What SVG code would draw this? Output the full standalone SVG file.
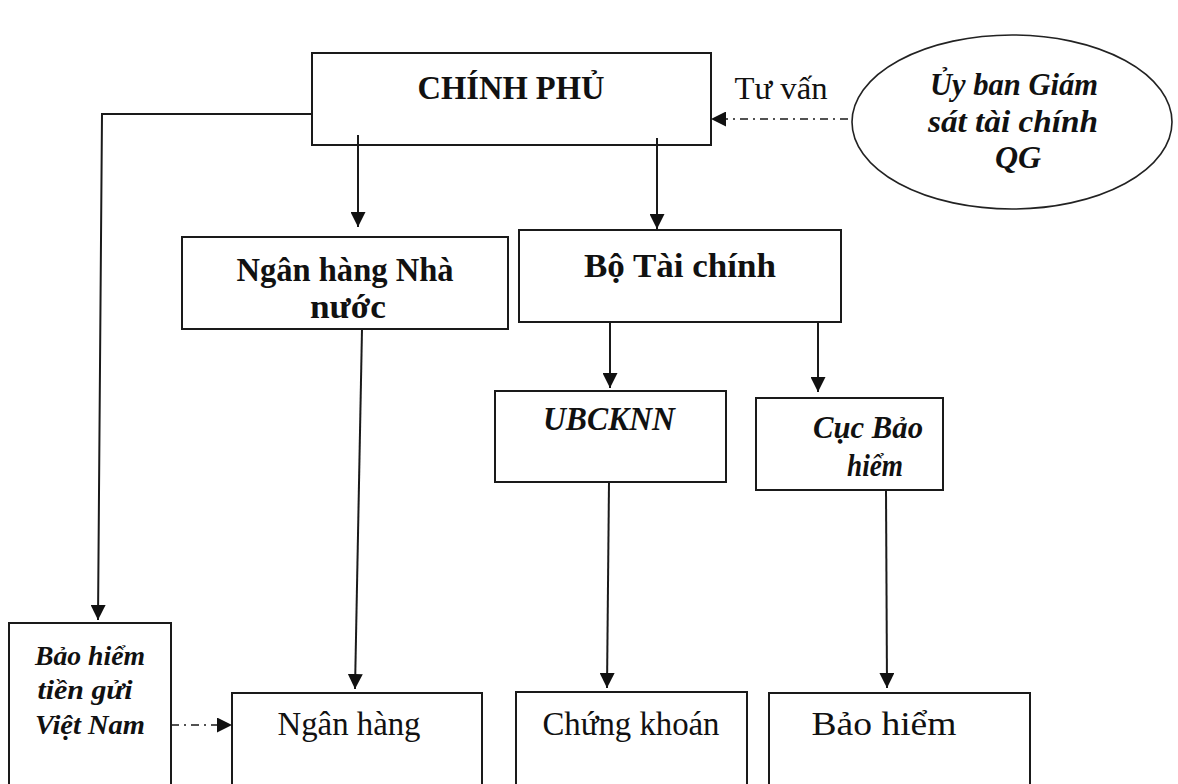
<svg xmlns="http://www.w3.org/2000/svg" width="1178" height="784" viewBox="0 0 1178 784">
<style>
.box{fill:#fff;stroke:#1a1a1a;stroke-width:2}
.t{font-family:"Liberation Serif","Times New Roman",serif;fill:#111;text-anchor:middle}
.b{font-weight:bold}
.i{font-style:italic}
.c{fill:none;stroke:#1a1a1a;stroke-width:2}
.d{fill:none;stroke:#1a1a1a;stroke-width:1.6;stroke-dasharray:8 5 2 5}
</style>
<defs>
<marker id="ah" viewBox="0 0 10 10" refX="10" refY="5" markerUnits="userSpaceOnUse" markerWidth="15" markerHeight="15" orient="auto" preserveAspectRatio="none">
<path d="M0,0 L10,5 L0,10 z" fill="#111"/>
</marker>
</defs>
<rect width="1178" height="784" fill="#fff"/>
<g id="chinhphu">
<rect class="box" x="312" y="53" width="399" height="92"/>
<text class="t b" x="511" y="99" font-size="33" textLength="187" lengthAdjust="spacingAndGlyphs">CHÍNH PHỦ</text>
</g>
<g id="tuvan-label">
<text class="t" x="781" y="99" font-size="32" textLength="93" lengthAdjust="spacingAndGlyphs">Tư vấn</text>
</g>
<g id="uybangiamsat">
<ellipse cx="1012" cy="122" rx="160" ry="87" fill="#fff" stroke="#222" stroke-width="1.6"/>
<text class="t b i" x="1014" y="95" font-size="32" textLength="168" lengthAdjust="spacingAndGlyphs">Ủy ban Giám</text>
<text class="t b i" x="1013" y="132" font-size="32" textLength="170" lengthAdjust="spacingAndGlyphs">sát tài chính</text>
<text class="t b i" x="1018" y="168" font-size="32">QG</text>
</g>
<g id="nhnn">
<rect class="box" x="182" y="237" width="326" height="92"/>
<text class="t b" x="345" y="281" font-size="33" textLength="217" lengthAdjust="spacingAndGlyphs">Ngân hàng Nhà</text>
<text class="t b" x="348" y="318" font-size="33" textLength="76" lengthAdjust="spacingAndGlyphs">nước</text>
</g>
<g id="botaichinh">
<rect class="box" x="519" y="230" width="322" height="92"/>
<text class="t b" x="680" y="277" font-size="33" textLength="192" lengthAdjust="spacingAndGlyphs">Bộ Tài chính</text>
</g>
<g id="ubcknn">
<rect class="box" x="495" y="391" width="231" height="91"/>
<text class="t b i" x="609" y="430" font-size="33" textLength="132" lengthAdjust="spacingAndGlyphs">UBCKNN</text>
</g>
<g id="cucbaohiem">
<rect class="box" x="756" y="398" width="187" height="92"/>
<text class="t b i" x="868" y="438" font-size="32" textLength="110" lengthAdjust="spacingAndGlyphs">Cục Bảo</text>
<text class="t b i" x="875" y="476" font-size="32" textLength="56" lengthAdjust="spacingAndGlyphs">hiểm</text>
</g>
<g id="bhtg">
<rect class="box" x="9" y="623" width="162" height="200"/>
<text class="t b i" x="90" y="665" font-size="28" textLength="110" lengthAdjust="spacingAndGlyphs">Bảo hiểm</text>
<text class="t b i" x="85" y="699" font-size="28" textLength="95" lengthAdjust="spacingAndGlyphs">tiền gửi</text>
<text class="t b i" x="90" y="734" font-size="28" textLength="110" lengthAdjust="spacingAndGlyphs">Việt Nam</text>
</g>
<g id="nganhang">
<rect class="box" x="232" y="693" width="250" height="130"/>
<text class="t" x="349" y="735" font-size="33" textLength="143" lengthAdjust="spacingAndGlyphs">Ngân hàng</text>
</g>
<g id="chungkhoan">
<rect class="box" x="516" y="692" width="231" height="130"/>
<text class="t" x="631" y="735" font-size="33" textLength="177" lengthAdjust="spacingAndGlyphs">Chứng khoán</text>
</g>
<g id="baohiem">
<rect class="box" x="769" y="693" width="261" height="130"/>
<text class="t" x="884" y="735" font-size="33" textLength="145" lengthAdjust="spacingAndGlyphs">Bảo hiểm</text>
</g>
<g id="connectors">
<line class="c" x1="358" y1="135" x2="358" y2="227" marker-end="url(#ah)"/>
<line class="c" x1="657" y1="138" x2="657" y2="229" marker-end="url(#ah)"/>
<polyline class="c" points="312,114 102,114 98,620" marker-end="url(#ah)"/>
<line class="d" x1="848" y1="119" x2="711" y2="119" marker-end="url(#ah)"/>
<line class="c" x1="610" y1="322" x2="610" y2="388" marker-end="url(#ah)"/>
<line class="c" x1="818" y1="322" x2="818" y2="392" marker-end="url(#ah)"/>
<line class="c" x1="362" y1="329" x2="355" y2="689" marker-end="url(#ah)"/>
<line class="c" x1="609" y1="482" x2="607" y2="688" marker-end="url(#ah)"/>
<line class="c" x1="886" y1="490" x2="887" y2="688" marker-end="url(#ah)"/>
<line class="d" x1="171" y1="725" x2="232" y2="725" marker-end="url(#ah)"/>
</g>
</svg>
